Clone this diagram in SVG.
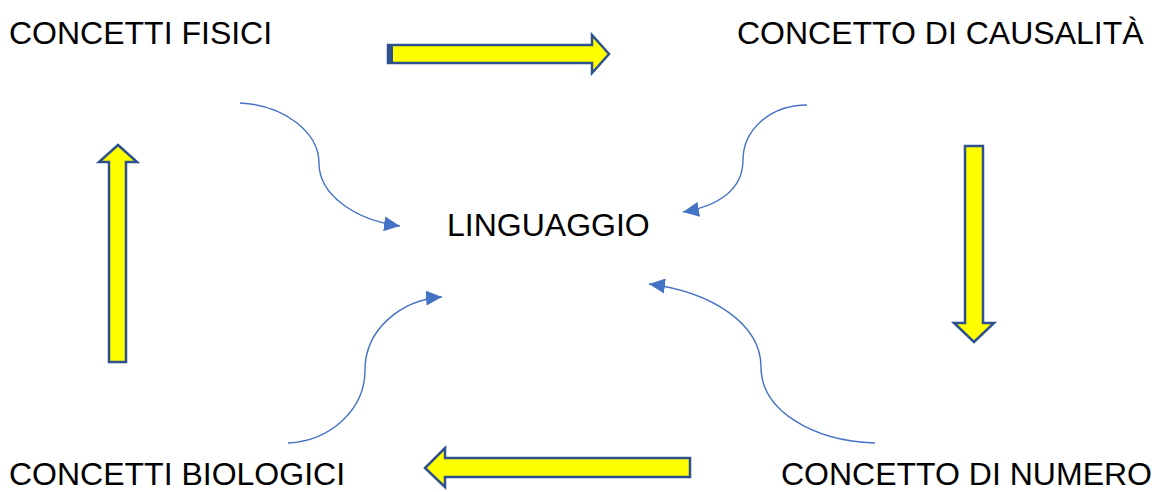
<svg xmlns="http://www.w3.org/2000/svg" width="1155" height="492" viewBox="0 0 1155 492">
<defs>
<style>
.lbl{font-family:"Liberation Sans",Arial,sans-serif;font-size:32px;fill:#000}
.blk{fill:#FFFF00;stroke:#2F528F;stroke-width:2.5;stroke-linejoin:miter}
.crv{fill:none;stroke:#4472C4;stroke-width:1.4}
</style>
<marker id="ah" markerUnits="userSpaceOnUse" markerWidth="17" markerHeight="15" refX="16" refY="7.5" orient="auto">
<path d="M0,0 L16,7.5 L0,15 z" fill="#4472C4"/>
</marker>
</defs>
<rect width="1155" height="492" fill="#fff"/>
<g id="concetti-fisici"><text class="lbl" x="9" y="44">CONCETTI FISICI</text></g>
<g id="concetto-causalita"><text class="lbl" x="737" y="44">CONCETTO DI CAUSALITÀ</text></g>
<g id="linguaggio"><text class="lbl" x="447" y="236">LINGUAGGIO</text></g>
<g id="concetti-biologici"><text class="lbl" x="9" y="485">CONCETTI BIOLOGICI</text></g>
<g id="concetto-numero"><text class="lbl" x="781" y="485">CONCETTO DI NUMERO</text></g>
<g id="connectors">
<g id="block-arrows">
<path class="blk" d="M388,45 L592,45 L592,35 L609,54 L592,73 L592,63 L388,63 Z"/>
<rect x="387" y="44" width="6" height="20" fill="#2F528F"/>
<path class="blk" d="M965,146 L983,146 L983,323 L994,323 L974,342 L954,323 L965,323 Z"/>
<path class="blk" d="M690,458 L445,458 L445,448 L425,468 L445,487 L445,477 L690,477 Z"/>
<path class="blk" d="M109,362 L109,162 L99,162 L118,145 L137,162 L126,162 L126,362 Z"/>
</g>
<g id="curves">
<path class="crv" marker-end="url(#ah)" d="M240,103 C285,105 319,133 319,163 C319,195 355,220 400,226"/>
<path class="crv" marker-end="url(#ah)" d="M807,105 C770,105 743,130 743,160 C743,190 718,206 683,212"/>
<path class="crv" marker-end="url(#ah)" d="M875,443 C812,441 761,410 761,367 C761,324 712,292 649,284"/>
<path class="crv" marker-end="url(#ah)" d="M288,443 C330,441 365,410 365,370 C365,330 400,300 442,297"/>
</g>
</g>
</svg>
